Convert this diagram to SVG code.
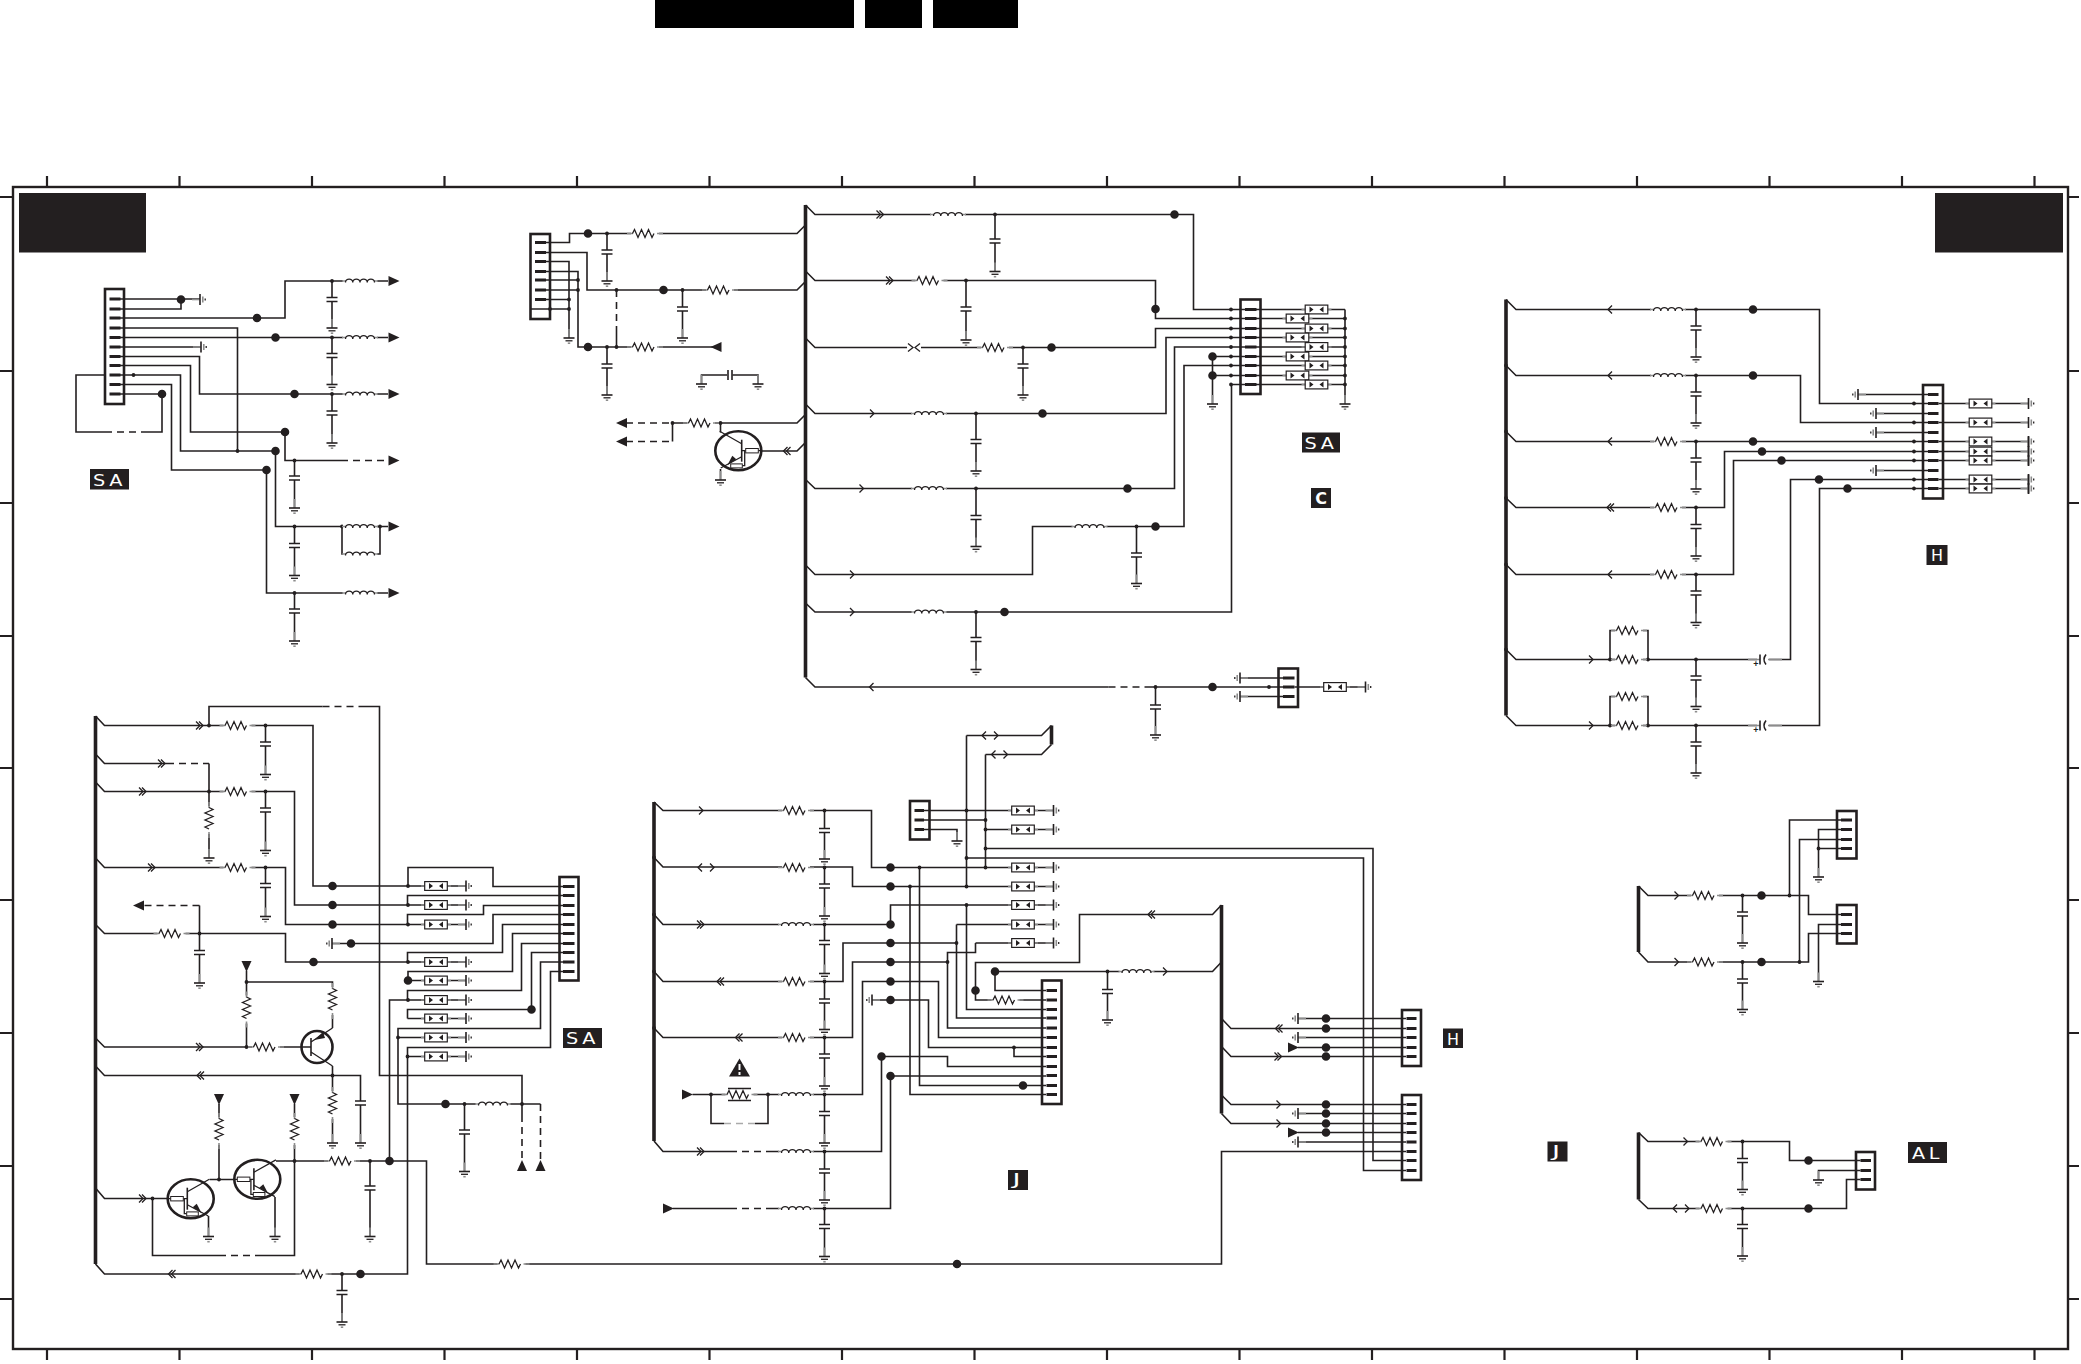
<svg xmlns="http://www.w3.org/2000/svg" width="2081" height="1364" viewBox="0 0 2081 1364">
<style>
.w{fill:none;stroke:#231f20;stroke-width:1.6}
.n{fill:none;stroke:#231f20;stroke-width:1.3}
.g{fill:none;stroke:#8c8c8c;stroke-width:1.6}
.dash{fill:none;stroke:#231f20;stroke-width:1.6;stroke-dasharray:7 5}
.bus{fill:none;stroke:#231f20;stroke-width:3.6}
.tick{fill:none;stroke:#231f20;stroke-width:2.2}
.dot{fill:none;stroke:#231f20;stroke-width:3.8;stroke-linecap:round}
.big{fill:none;stroke:#231f20;stroke-width:8.6;stroke-linecap:round}
.box{fill:none;stroke:#231f20;stroke-width:2.6}
.pin{fill:none;stroke:#231f20;stroke-width:3.2}
.bk{fill:#231f20}
.lb{fill:#fff;font-family:"DejaVu Sans",sans-serif;font-size:16px;text-anchor:middle}
</style>
<defs>
<g id="R"><rect x="-14" y="-5" width="28" height="10" fill="#fff"/><path class="g" d="M-18 0H-12M12 0H18"/><path class="n" d="M-12.5 0l2-4 3.5 8 3.5-8 3.5 8 3.5-8 3.5 8 2-4"/></g>
<g id="L"><rect x="-17" y="-4" width="34" height="8" fill="#fff"/><path class="g" d="M-18 0H-14M14 0H18"/><path class="n" d="M-14.5 1.5a3.6 3.4 0 0 1 7.25 0a3.6 3.4 0 0 1 7.25 0a3.6 3.4 0 0 1 7.25 0a3.6 3.4 0 0 1 7.25 0"/></g>
<g id="C"><rect x="-6" y="-2" width="12" height="4" fill="#fff"/><path class="w" d="M-5.5 -2H5.5M-5.5 2H5.5"/></g>
<g id="G"><path class="g" d="M0 -9V0"/><path class="w" d="M-5.5 0H5.5"/><path class="n" d="M-3.5 2.8H3.5"/><path class="g" d="M-1.2 5.2H1.2"/></g>
<g id="ER"><path class="g" d="M-8 0H0"/><path class="w" d="M0 -5.5V5.5"/><path class="g" d="M2.8 -3V3"/><path class="n" d="M5.2 -1V1"/></g>
<g id="EL"><path class="g" d="M8 0H0"/><path class="w" d="M0 -5.5V5.5"/><path class="g" d="M-2.8 -3V3"/><path class="n" d="M-5.2 -1V1"/></g>
<path id="AR" class="bk" d="M0 -5L11 0L0 5Z"/>
<path id="AL" class="bk" d="M0 0L11 -5V5Z"/>
<path id="AD" class="bk" d="M-5 0H5L0 11Z"/>
<path id="AU" class="bk" d="M-5 11H5L0 0Z"/>
<path id="c1" class="n" d="M-2 -4L2 0L-2 4"/>
<path id="c2" class="n" d="M-4 -4L0 0L-4 4M-1 -4L3 0L-1 4"/>
<path id="c3" class="n" d="M2 -4L-2 0L2 4"/>
<path id="c4" class="n" d="M4 -4L0 0L4 4M1 -4L-3 0L1 4"/>
<g id="c5"><path class="n" d="M-4 -4L-8 0L-4 4M4 -4L8 0L4 4"/></g>
<g id="c6"><rect x="-7" y="-2" width="14" height="4" fill="#fff"/><path class="n" d="M-6 -4L-1 0L-6 4M6 -4L1 0L6 4"/></g>
<g id="F"><path class="g" d="M-15 0H-11M11 0H15"/><rect x="-11.3" y="-4.4" width="22.6" height="8.8" fill="#fff" stroke="#231f20" stroke-width="1.2"/><path class="bk" d="M-7 -3L-3 0L-7 3ZM7 -3L3 0L7 3Z"/></g>
<g id="P"><rect x="-4" y="-6" width="12" height="12" fill="#fff"/><path class="g" d="M-13 0H-1M7 0H21"/><path class="w" d="M-1 -5V5"/><path class="w" d="M5 -5Q1 0 5 5"/></g>
<g id="TQ"><ellipse rx="23" ry="19.5" fill="#fff" stroke="#231f20" stroke-width="2.6"/><path class="w" d="M-3.4 -11V11"/><path class="n" d="M-3.4 -7L18.6 -19.4M-3.4 6L17.6 17.3M-23 0H-20M-7.4 0H-3.4M-6.4 0V15H-4"/><path class="bk" d="M11 14.5L2 8.5L6 5Z"/><rect x="-20" y="-2.2" width="12.6" height="4.4" fill="#fff" stroke="#231f20" stroke-width="1"/><rect x="-4" y="13.2" width="11.6" height="4" fill="#fff" stroke="#231f20" stroke-width="1"/></g>
</defs>

<g id="header">
<rect x="655" y="0" width="199" height="28" fill="#000"/>
<rect x="865" y="0" width="57" height="28" fill="#000"/>
<rect x="933" y="0" width="85" height="28" fill="#000"/>
</g>
<g id="frame">
<rect x="13" y="187" width="2055" height="1162" fill="none" stroke="#231f20" stroke-width="2.4"/>
<path class="tick" d="M47 176V187M179.5 176V187M312 176V187M444.5 176V187M577 176V187M709.5 176V187M842 176V187M974.5 176V187M1107 176V187M1239.5 176V187M1372 176V187M1504.5 176V187M1637 176V187M1769.5 176V187M1902 176V187M2034.5 176V187M47 1349V1360M179.5 1349V1360M312 1349V1360M444.5 1349V1360M577 1349V1360M709.5 1349V1360M842 1349V1360M974.5 1349V1360M1107 1349V1360M1239.5 1349V1360M1372 1349V1360M1504.5 1349V1360M1637 1349V1360M1769.5 1349V1360M1902 1349V1360M2034.5 1349V1360M0 197H13M0 371H13M0 503H13M0 636H13M0 768H13M0 900H13M0 1033H13M0 1166H13M0 1299H13M2068 197H2079M2068 371H2079M2068 503H2079M2068 636H2079M2068 768H2079M2068 900H2079M2068 1033H2079M2068 1166H2079M2068 1299H2079"/>
<rect class="bk" x="19" y="193" width="127" height="59.5"/>
<rect class="bk" x="1935" y="193" width="128" height="59.5"/>
</g>

<g id="connectors">
<path class="w" d="M120 299H200M120 309H181V299.5M120 318H285V281H388M120 328H237.5V451M120 337.5H388M120 347H200M120 356.5H199.5V394H388M120 365.5H190.5V432H285V460.5H341M120 375H180.5V451H275.5V526.5H388M120 384.5H171.5V470H266.5V593H388M105 375H76V432H105M143 432H162V394H120M342 526.5V554H380V526.5M332 281V328M332 337.5V384.5M332 394V443M294.5 460.5V508M294.5 526.5V575.5M294.5 593V641"/>
<path class="dash" d="M341 460.5H388M105 432H143"/>

<path class="w" d="M546 242.5H569.5V233.5H797L805.5 225M546 252.5H587V290H797L805.5 281.5M546 261.5H569V338M546 271.5H578V347H721M546 280H578M546 290H578M546 299.5H569M530.5 309H569M607 233.5V281M682.5 290V338M607 347V395M616.5 328V347M701.5 384V375H727M732.5 375H758V384M672.5 423V441.5M672.5 423H797L805.5 414.5M720.5 423V432.5M720.5 469V480M759 451H797L805.5 442.5"/>
<path class="w" d="M728 370V380M732 370V380"/>
<path class="dash" d="M616.5 290V328M626 423H672.5M626 441.5H672.5"/>

<path class="w" d="M805.5 205L815 214.5H1193.5V309.5H1245M805.5 271L815 280.5H1155.5V318.5H1245M805.5 338L815 347.5H1155.5V328.5H1245M805.5 404L815 413.5H1166V337.5H1245M805.5 479.5L815 488.5H1174.5V347H1245M805.5 565L815 574.5H1032.5V526.5H1184V365.5H1245M805.5 603L815 612H1231.5V384.5H1245M805.5 677.5L815 687H1108.5M1146 687H1283M1212.5 356.5H1245M1212.5 375.5H1245M1212.5 356.5V404M1256 309.5H1345M1256 318.5H1345M1256 328.5H1345M1256 337.5H1345M1256 347H1345M1256 356.5H1345M1256 365.5H1345M1256 375.5H1345M1256 384.5H1345M1345 309.5V404M995 214.5V271.5M966 280.5V340M1023 347.5V395M976 413.5V471M976 488.5V546.5M1136.5 526.5V583.5M976 612V669.5M1155.5 687V735M1240 678H1283M1240 696.5H1283M1294.5 687H1365"/>
<path class="dash" d="M1108.5 687H1146"/>
<path class="bus" d="M805.5 205V677.5"/>

<path class="bus" d="M1506 299.5V715.5M95.5 716V1264M654 802V1141M1051.5 725.5V744.5M1221.5 905V1113.5M1638.5 886V952M1638.5 1132.5V1199.5"/>
<path class="w" d="M1506 299.5L1516 309.5H1819.5V403.5H1928M1506 365.5L1516 375.5H1800.5V422.5H1928M1506 431.5L1516 441.5H1928M1506 498L1516 507.5H1724.5V451.5H1928M1506 564.5L1516 574.5H1733.5V460.5H1928M1506 649.5L1516 659.5H1790.5V479.5H1928M1506 715.5L1516 725.5H1819.5V488.5H1928M1610 659.5V630.5H1648V659.5M1610 725.5V696.5H1648V725.5M1858 394.5H1928M1876 413.5H1928M1876 432.5H1928M1876 470.5H1928M1938.5 403.5H2028M1938.5 422.5H2028M1938.5 441.5H2028M1938.5 451.5H2028M1938.5 460.5H2028M1938.5 479.5H2028M1938.5 488.5H2028M1696 309.5V357M1696 375.5V423M1696 441.5V489M1696 507.5V556M1696 574.5V622.5M1696 659.5V706.5M1696 725.5V773M2028.5 436.5V465.5M2028.5 474.5V493.5"/>

<path class="w" d="M95.5 716L104.5 725.5H313V886H466M209 725.5V706.5H322.5M360 706.5H379.5V1075.5H522V1115M95.5 754L104.5 763.5H167M209 763.5V858M95.5 782L104.5 791.5H294.5V905H466M95.5 858L104.5 867.5H285.5V924.5H466M95.5 924.5L104.5 933.5H285.5V962H466M199.5 933.5V905.5M265.5 725.5V774.5M265.5 791.5V850.5M265.5 867.5V916.5M199.5 933.5V983M95.5 1038L104.5 1047H302M246.5 971V1047M246.5 982H332.5V1028M332.5 1066V1143M95.5 1066L104.5 1075.5H360.5V1143M95.5 1188L104.5 1198.5H167.5M152.5 1198.5V1255.5H219M257 1255.5H294.5V1104M209.5 1179.5H234M219 1179.5V1104M208.5 1216V1236.5M275 1197V1236.5M276 1161H389.5H426.5V1264H1221.5V1151.5H1406M370 1161V1236.5M389.5 1161V1000H408M95.5 1264L104.5 1274H407.5V1047.5H550.5V971.5H563M342 1274V1322M563 886.5H493V867.5H408V886M563 895.5H407.5V905M563 905.5H483.5V914.5H407.5V924.5M563 914.5H493V943.5H332M563 924.5H502.5V952.5H407.5V962M563 933.5H512.5V971.5H408V980.5M563 943.5H521.5V990.5H407.5V1000M563 952.5H531.5V1009.5H407.5V1018.5M563 962H540.5V1028.5H398V1104H540.5M408 980.5H466M389.5 1000H466M407.5 1018.5H466M398 1037.5H466M407.5 1056.5H466M464.5 1104V1171.5"/>
<path class="dash" d="M322.5 706.5H360M167 763.5H209M199.5 905.5H144M219 1255.5H257M522 1115V1161M540.5 1104V1161"/>

<path class="w" d="M654 802L663 810.5H871.5V867.5H1053M654 857.5L663 867H852.5V886.5H1053M654 914.5L663 924.5H890.5V905H1053M654 971.5L663 981.5H843V943H956.5M654 1028L663 1037.5H852.5V962H947.5M692.5 1094.5H862.5V981.5H938.5V1037.5H1046M711 1094.5V1123.5H724M755 1123.5H768V1094.5M654 1141L663 1151.5H730M766 1151.5H881.5V1056.5H947.5V1066.5H1046M673 1208.5H730M766 1208.5H890.5V1076H1046M966.5 735.5V886.5M966.5 735.5H1041.5L1051.5 725.5M985.5 754.5V867.5M985.5 754.5H1041.5L1051.5 744.5M966.5 905V1009.5H1046M956.5 924.5V1018H1046M956.5 924.5H1053M975.5 943H1053M975.5 943V952.5H947.5V1028H1046M924 810.5H1053M924 820H985.5M924 829.5H957V841M985.5 829.5H1053M985.5 848.5H1373V1160.5H1406M966.5 858H1363.5V1170.5H1406M872 1000H928.5V1047.5H1046M1014 1047.5V1056.5H1046M919.5 867.5V1085.5H1046M910 886.5V1094.5H1046M1046 990.5H995V971.5H1212.5L1221.5 962M1046 1000H975.5V962.5H1079.5V914.5H1212.5L1221.5 905M1107.5 971.5V1020M824.5 810.5V859M824.5 867.5V916M824.5 924.5V973.5M824.5 981.5V1029.5M824.5 1037.5V1086M824.5 1094.5V1143M824.5 1151.5V1200M824.5 1208.5V1256.5M1221.5 1018.5L1231 1028.5H1406M1221.5 1046.5L1231 1056.5H1406M1221.5 1095L1231 1104.5H1406M1221.5 1113.5L1231 1123.5H1406M1298 1018.5H1406M1298 1037.5H1406M1298 1047.5H1406M1298 1113.5H1406M1298 1132.5H1406M1298 1142H1406"/>
<path class="dash" d="M730 1151.5H766M730 1208.5H766"/>
<path d="M724 1123.5H755" fill="none" stroke="#aaa" stroke-width="1.4" stroke-dasharray="7 5"/>

<path class="w" d="M1638.5 886L1648 895.5H1808.5V914.5H1841.5M1638.5 952L1648 962H1808.5V933.5H1841.5M1789.5 895.5V820H1841M1799.5 962V839.5H1841M1841 829.5H1818.5V877M1841 848.5H1818.5M1841.5 924.5H1818.5V981.5M1742.5 895.5V943M1742.5 962V1009.5M1638.5 1132.5L1648 1141.5H1789.5V1160.5H1860.5M1638.5 1199.5L1648 1208.5H1846.5V1179.5H1860.5M1860.5 1170.5H1818.5V1180M1742.5 1141.5V1189.5M1742.5 1208.5V1256"/>

<path class="dot" d="M332 281h0M332 337.5h0M332 394h0M294.5 460.5h0M294.5 526.5h0M294.5 593h0M133.5 375h0M237.5 451h0M342 526.5h0M380 526.5h0M607 233.5h0M616.5 290h0M682.5 290h0M607 347h0M616.5 347h0M578 280h0M578 290h0M569 299.5h0M569 309h0M550 309h0M672.5 423h0M720.5 423h0M995 214.5h0M966 280.5h0M1023 347.5h0M976 413.5h0M976 488.5h0M1136.5 526.5h0M976 612h0M1155.5 687h0M1269 687h0M1231 309.5h0M1231 318.5h0M1231 328.5h0M1231 337.5h0M1231 347h0M1231 356.5h0M1231 365.5h0M1231 375.5h0M1231 384.5h0M1345 318.5h0M1345 328.5h0M1345 337.5h0M1345 347h0M1345 356.5h0M1345 365.5h0M1345 375.5h0M1345 384.5h0M1696 309.5h0M1696 375.5h0M1696 441.5h0M1696 507.5h0M1696 574.5h0M1696 659.5h0M1696 725.5h0M1610 659.5h0M1648 659.5h0M1610 725.5h0M1648 725.5h0M1914 403.5h0M1914 422.5h0M1914 441.5h0M1914 451.5h0M1914 460.5h0M1914 479.5h0M1914 488.5h0M1506 365.5h0M1506 431.5h0M1506 498h0M1506 564.5h0M1506 649.5h0M209 725.5h0M265.5 725.5h0M209 791.5h0M265.5 791.5h0M265.5 867.5h0M199.5 933.5h0M246.5 982h0M246.5 1047h0M332.5 1075.5h0M152.5 1198.5h0M219 1179.5h0M294.5 1161h0M370 1161h0M342 1274h0M408 886h0M408 905h0M408 924.5h0M408 962h0M408 1000h0M398 1037.5h0M407.5 1056.5h0M464.5 1104h0M522 1104h0M824.5 810.5h0M824.5 867.5h0M824.5 924.5h0M824.5 981.5h0M824.5 1037.5h0M824.5 1094.5h0M824.5 1151.5h0M824.5 1208.5h0M711 1094.5h0M768 1094.5h0M966.5 810.5h0M985.5 820h0M985.5 829.5h0M985.5 848.5h0M966.5 858h0M919.5 867.5h0M985.5 867.5h0M910 886.5h0M966.5 886.5h0M966.5 905h0M956.5 943h0M947.5 962h0M1014 1047.5h0M1107.5 971.5h0M654 857.5h0M654 914.5h0M654 971.5h0M654 1028h0M1742.5 895.5h0M1742.5 962h0M1789.5 895.5h0M1799.5 962h0M1818.5 848.5h0M1742.5 1141.5h0M1742.5 1208.5h0"/>
<path class="big" d="M181 299.5h0M257 318h0M275.5 337.5h0M294.5 394h0M285 432h0M275.5 451h0M266.5 470h0M162 394h0M588 233.5h0M663.5 290h0M588 347h0M1174.5 214.5h0M1155.5 309h0M1051.5 347.5h0M1042.5 413.5h0M1127.5 488.5h0M1155.5 526.5h0M1004.5 612h0M1212.5 687h0M1212.5 356.5h0M1212.5 375.5h0M1753 309.5h0M1753 375.5h0M1753 441.5h0M1762 451.5h0M1781.5 460.5h0M1819 479.5h0M1847.5 488.5h0M332.5 886h0M332.5 905h0M332.5 924.5h0M313.5 962h0M351 943.5h0M408 980.5h0M531.5 1009.5h0M445.5 1104h0M389.5 1161h0M360.5 1274h0M890.5 867.5h0M890.5 886.5h0M890.5 924.5h0M890.5 943h0M890.5 962h0M890.5 981.5h0M890.5 1000h0M881.5 1056.5h0M890.5 1076h0M957 1264h0M975.5 990.5h0M995 971.5h0M1023 1085.5h0M1326 1018.5h0M1326 1028.5h0M1326 1047.5h0M1326 1056.5h0M1326 1104.5h0M1326 1113.5h0M1326 1123.5h0M1326 1132.5h0M1761.5 895.5h0M1761.5 962h0M1808.5 1160.5h0M1808.5 1208.5h0"/>
</g>

<g id="resistors">
<use href="#R" x="645" y="233.5"/><use href="#R" x="720" y="290"/><use href="#R" x="645" y="347"/><use href="#R" x="701" y="423"/>
<use href="#R" x="929.5" y="280.5"/><use href="#R" x="995" y="347.5"/>
<use href="#R" x="1668" y="441.5"/><use href="#R" x="1668" y="507.5"/><use href="#R" x="1668" y="574.5"/><use href="#R" x="1629" y="659.5"/><use href="#R" x="1629" y="630.5"/><use href="#R" x="1629" y="725.5"/><use href="#R" x="1629" y="696.5"/>
<use href="#R" x="237.5" y="725.5"/><use href="#R" x="237.5" y="791.5"/><use href="#R" x="237.5" y="867.5"/><use href="#R" x="171.5" y="933.5"/><use href="#R" x="342" y="1161"/><use href="#R" x="511.5" y="1264"/><use href="#R" x="266" y="1047"/><use href="#R" x="313.5" y="1274"/>
<use href="#R" transform="translate(209 820) rotate(90)"/><use href="#R" transform="translate(246.5 1009.5) rotate(90)"/><use href="#R" transform="translate(332.5 1001) rotate(90)"/><use href="#R" transform="translate(332.5 1105) rotate(90)"/><use href="#R" transform="translate(219 1131) rotate(90)"/><use href="#R" transform="translate(294.5 1131) rotate(90)"/>
<use href="#R" x="796" y="810.5"/><use href="#R" x="796" y="867.5"/><use href="#R" x="796" y="981.5"/><use href="#R" x="796" y="1037.5"/><use href="#R" x="1005.5" y="1000"/>
<use href="#R" x="739.5" y="1094.5"/>
<use href="#R" x="1705" y="895.5"/><use href="#R" x="1705" y="962"/><use href="#R" x="1713.5" y="1141.5"/><use href="#R" x="1713.5" y="1208.5"/>
<path class="w" d="M728 1088.5H751M728 1100.5H751"/>
</g>
<g id="inductors">
<use href="#L" x="360" y="281"/><use href="#L" x="360" y="337.5"/><use href="#L" x="360" y="394"/><use href="#L" x="360" y="526.5"/><use href="#L" x="360" y="554"/><use href="#L" x="360" y="593"/>
<use href="#L" x="948" y="214.5"/><use href="#L" x="929" y="413.5"/><use href="#L" x="929" y="488.5"/><use href="#L" x="1089.5" y="526.5"/><use href="#L" x="929" y="612"/>
<use href="#L" x="1668" y="309.5"/><use href="#L" x="1668" y="375.5"/><use href="#L" x="493" y="1104"/>
<use href="#L" x="796" y="924.5"/><use href="#L" x="796" y="1094.5"/><use href="#L" x="796" y="1151.5"/><use href="#L" x="796" y="1208.5"/><use href="#L" x="1136.5" y="971.5"/>
</g>
<g id="capacitors">
<use href="#C" x="332" y="299.5"/><use href="#C" x="332" y="355.5"/><use href="#C" x="332" y="413"/><use href="#C" x="294.5" y="478"/><use href="#C" x="294.5" y="545.5"/><use href="#C" x="294.5" y="611"/>
<use href="#C" x="607" y="252"/><use href="#C" x="682.5" y="309"/><use href="#C" x="607" y="366"/><use href="#C" x="995" y="241"/><use href="#C" x="966" y="309"/><use href="#C" x="1023" y="366"/><use href="#C" x="976" y="441.5"/><use href="#C" x="976" y="517.5"/><use href="#C" x="1136.5" y="555"/><use href="#C" x="976" y="639.5"/><use href="#C" x="1155.5" y="707"/>
<use href="#C" x="1696" y="328"/><use href="#C" x="1696" y="394"/><use href="#C" x="1696" y="460"/><use href="#C" x="1696" y="526.5"/><use href="#C" x="1696" y="593"/><use href="#C" x="1696" y="678"/><use href="#C" x="1696" y="744"/>
<use href="#C" x="265.5" y="744"/><use href="#C" x="265.5" y="810"/><use href="#C" x="265.5" y="885.5"/><use href="#C" x="199.5" y="952.5"/><use href="#C" x="360.5" y="1103"/><use href="#C" x="370" y="1188"/><use href="#C" x="342" y="1292.5"/><use href="#C" x="464.5" y="1132"/>
<use href="#C" x="824.5" y="830.5"/><use href="#C" x="824.5" y="886"/><use href="#C" x="824.5" y="942.5"/><use href="#C" x="824.5" y="1001"/><use href="#C" x="824.5" y="1056"/><use href="#C" x="824.5" y="1113.5"/><use href="#C" x="824.5" y="1171"/><use href="#C" x="824.5" y="1226.5"/><use href="#C" x="1107.5" y="991.5"/>
<use href="#C" x="1742.5" y="914"/><use href="#C" x="1742.5" y="981"/><use href="#C" x="1742.5" y="1160.5"/><use href="#C" x="1742.5" y="1226.5"/>
<g id="polar1"><use href="#P" x="1761" y="659.5"/><text x="1756" y="667" font-family="Liberation Sans,sans-serif" font-size="9" font-weight="bold" text-anchor="middle" fill="#231f20">+</text></g>
<g id="polar2"><use href="#P" x="1761" y="725.5"/><text x="1756" y="733" font-family="Liberation Sans,sans-serif" font-size="9" font-weight="bold" text-anchor="middle" fill="#231f20">+</text></g>
</g>
<g id="grounds">
<use href="#G" x="332" y="328"/><use href="#G" x="332" y="384.5"/><use href="#G" x="332" y="443"/><use href="#G" x="294.5" y="508"/><use href="#G" x="294.5" y="575.5"/><use href="#G" x="294.5" y="641"/>
<use href="#G" x="569" y="338"/><use href="#G" x="607" y="281"/><use href="#G" x="682.5" y="338"/><use href="#G" x="607" y="395"/><use href="#G" x="701.5" y="384"/><use href="#G" x="758" y="384"/><use href="#G" x="720.5" y="480"/>
<use href="#G" x="995" y="271.5"/><use href="#G" x="966" y="340"/><use href="#G" x="1023" y="395"/><use href="#G" x="976" y="471"/><use href="#G" x="976" y="546.5"/><use href="#G" x="1136.5" y="583.5"/><use href="#G" x="976" y="669.5"/><use href="#G" x="1155.5" y="735"/><use href="#G" x="1212.5" y="404"/><use href="#G" x="1345" y="404"/>
<use href="#G" x="1696" y="357"/><use href="#G" x="1696" y="423"/><use href="#G" x="1696" y="489"/><use href="#G" x="1696" y="556"/><use href="#G" x="1696" y="622.5"/><use href="#G" x="1696" y="706.5"/><use href="#G" x="1696" y="773"/>
<use href="#G" x="265.5" y="774.5"/><use href="#G" x="265.5" y="850.5"/><use href="#G" x="265.5" y="916.5"/><use href="#G" x="209" y="858"/><use href="#G" x="199.5" y="983"/><use href="#G" x="332.5" y="1143"/><use href="#G" x="360.5" y="1143"/><use href="#G" x="208.5" y="1236.5"/><use href="#G" x="275" y="1236.5"/><use href="#G" x="370" y="1236.5"/><use href="#G" x="342" y="1322"/><use href="#G" x="464.5" y="1171.5"/>
<use href="#G" x="824.5" y="859"/><use href="#G" x="824.5" y="916"/><use href="#G" x="824.5" y="973.5"/><use href="#G" x="824.5" y="1029.5"/><use href="#G" x="824.5" y="1086"/><use href="#G" x="824.5" y="1143"/><use href="#G" x="824.5" y="1200"/><use href="#G" x="824.5" y="1256.5"/><use href="#G" x="957" y="841"/><use href="#G" x="1107.5" y="1020"/>
<use href="#G" x="1742.5" y="943"/><use href="#G" x="1742.5" y="1009.5"/><use href="#G" x="1818.5" y="877"/><use href="#G" x="1818.5" y="981.5"/><use href="#G" x="1818.5" y="1180"/><use href="#G" x="1742.5" y="1189.5"/><use href="#G" x="1742.5" y="1256"/>
<use href="#ER" x="200" y="299.5"/><use href="#ER" x="201" y="347"/><use href="#ER" x="1365.5" y="687"/><use href="#EL" x="1240" y="678"/><use href="#EL" x="1240" y="696.5"/>
<use href="#EL" x="1858" y="394.5"/><use href="#EL" x="1876" y="413.5"/><use href="#EL" x="1876" y="432.5"/><use href="#EL" x="1876" y="470.5"/>
<use href="#ER" x="2028.5" y="403.5"/><use href="#ER" x="2028.5" y="422.5"/><use href="#ER" x="2028.5" y="441.5"/><use href="#ER" x="2028.5" y="451.5"/><use href="#ER" x="2028.5" y="460.5"/><use href="#ER" x="2028.5" y="479.5"/><use href="#ER" x="2028.5" y="488.5"/>
<use href="#ER" x="466" y="886"/><use href="#ER" x="466" y="905"/><use href="#ER" x="466" y="924.5"/><use href="#ER" x="466" y="962"/><use href="#ER" x="466" y="980.5"/><use href="#ER" x="466" y="1000"/><use href="#ER" x="466" y="1018.5"/><use href="#ER" x="466" y="1037.5"/><use href="#ER" x="466" y="1056.5"/><use href="#EL" x="332" y="943.5"/>
<use href="#ER" x="1053.5" y="810.5"/><use href="#ER" x="1053.5" y="829.5"/><use href="#ER" x="1053.5" y="867.5"/><use href="#ER" x="1053.5" y="886.5"/><use href="#ER" x="1053.5" y="905"/><use href="#ER" x="1053.5" y="924.5"/><use href="#ER" x="1053.5" y="943"/><use href="#EL" x="872" y="1000"/>
<use href="#EL" x="1298" y="1018.5"/><use href="#EL" x="1298" y="1037.5"/><use href="#EL" x="1298" y="1113.5"/><use href="#EL" x="1298" y="1142"/>
</g>
<g id="arrows">
<use href="#AR" x="388.5" y="281"/><use href="#AR" x="388.5" y="337.5"/><use href="#AR" x="388.5" y="394"/><use href="#AR" x="388.5" y="460.5"/><use href="#AR" x="388.5" y="526.5"/><use href="#AR" x="388.5" y="593"/>
<use href="#AL" x="710.5" y="347"/><use href="#AL" x="616" y="423"/><use href="#AL" x="616" y="441.5"/><use href="#AL" x="133" y="905.5"/>
<use href="#AD" x="246.5" y="961"/><use href="#AD" x="219" y="1094"/><use href="#AD" x="294.5" y="1094"/><use href="#AU" x="522" y="1160"/><use href="#AU" x="540.5" y="1160"/>
<use href="#AR" x="682" y="1094.5"/><use href="#AR" x="663" y="1208.5"/><use href="#AR" x="1288" y="1047.5"/><use href="#AR" x="1288" y="1132.5"/>
</g>
<g id="signal-marks">
<use href="#c4" x="786.5" y="451"/>
<use href="#c2" x="880.5" y="214.5"/><use href="#c2" x="890" y="280.5"/><use href="#c6" x="914" y="347.5"/><use href="#c1" x="872" y="413.5"/><use href="#c1" x="861.5" y="488.5"/><use href="#c1" x="852" y="574.5"/><use href="#c1" x="852" y="612"/><use href="#c3" x="871.5" y="687"/>
<use href="#c3" x="1610" y="309.5"/><use href="#c3" x="1610" y="375.5"/><use href="#c3" x="1610" y="441.5"/><use href="#c4" x="1610" y="507.5"/><use href="#c3" x="1610" y="574.5"/><use href="#c1" x="1591" y="659.5"/><use href="#c1" x="1591" y="725.5"/>
<use href="#c2" x="200" y="725.5"/><use href="#c2" x="162" y="763.5"/><use href="#c2" x="143" y="791.5"/><use href="#c2" x="152" y="867.5"/><use href="#c2" x="200" y="1047"/><use href="#c4" x="200" y="1075.5"/><use href="#c2" x="143" y="1198.5"/><use href="#c4" x="171.5" y="1274"/>
<use href="#c1" x="701" y="810.5"/><use href="#c5" x="706" y="867.5"/><use href="#c2" x="701" y="924.5"/><use href="#c4" x="720" y="981.5"/><use href="#c4" x="738.5" y="1037.5"/><use href="#c2" x="701" y="1151.5"/>
<use href="#c5" x="990" y="735.5"/><use href="#c5" x="999.5" y="754.5"/><use href="#c1" x="1165" y="971.5"/><use href="#c4" x="1151" y="914.5"/>
<use href="#c4" x="1278.5" y="1028.5"/><use href="#c2" x="1278.5" y="1056.5"/><use href="#c1" x="1278.5" y="1104.5"/><use href="#c1" x="1278.5" y="1123.5"/>
<use href="#c1" x="1676.5" y="895.5"/><use href="#c1" x="1676.5" y="962"/><use href="#c1" x="1685.5" y="1141.5"/><use href="#c5" x="1681" y="1208.5"/>
</g>
<g id="fuses">
<use href="#F" x="1316.5" y="309.5"/><use href="#F" x="1297.5" y="318.5"/><use href="#F" x="1316.5" y="328.5"/><use href="#F" x="1297.5" y="337.5"/><use href="#F" x="1316.5" y="347"/><use href="#F" x="1297.5" y="356.5"/><use href="#F" x="1316.5" y="365.5"/><use href="#F" x="1297.5" y="375.5"/><use href="#F" x="1316.5" y="384.5"/><use href="#F" x="1335" y="687"/>
<use href="#F" x="1980.5" y="403.5"/><use href="#F" x="1980.5" y="422.5"/><use href="#F" x="1980.5" y="441.5"/><use href="#F" x="1980.5" y="451.5"/><use href="#F" x="1980.5" y="460.5"/><use href="#F" x="1980.5" y="479.5"/><use href="#F" x="1980.5" y="488.5"/>
<use href="#F" x="436" y="886"/><use href="#F" x="436" y="905"/><use href="#F" x="436" y="924.5"/><use href="#F" x="436" y="962"/><use href="#F" x="436" y="980.5"/><use href="#F" x="436" y="1000"/><use href="#F" x="436" y="1018.5"/><use href="#F" x="436" y="1037.5"/><use href="#F" x="436" y="1056.5"/>
<use href="#F" x="1023" y="810.5"/><use href="#F" x="1023" y="829.5"/><use href="#F" x="1023" y="867.5"/><use href="#F" x="1023" y="886.5"/><use href="#F" x="1023" y="905"/><use href="#F" x="1023" y="924.5"/><use href="#F" x="1023" y="943"/>
</g>

<g id="T1"><use href="#TQ" transform="translate(738.3 450.7) scale(-1 1)"/></g>
<g id="T2"><ellipse cx="317" cy="1047" rx="15.5" ry="16" fill="#fff" stroke="#231f20" stroke-width="2.6"/><path class="w" d="M311 1038V1056"/><path class="n" d="M302 1047H311M311 1042L332.5 1028M311 1052L332.5 1066"/><path class="bk" d="M314 1040L323 1032L325 1038Z"/></g>
<g id="T3"><use href="#TQ" transform="translate(190.7 1198.7)"/></g>
<g id="T4"><use href="#TQ" transform="translate(257.3 1179.3)"/></g>

<g id="X1"><rect class="box" x="105" y="289" width="19" height="115"/><path class="pin" d="M109.5 299H120.5M109.5 309H120.5M109.5 318H120.5M109.5 328H120.5M109.5 337.5H120.5M109.5 347H120.5M109.5 356.5H120.5M109.5 365.5H120.5M109.5 375H120.5M109.5 384.5H120.5M109.5 394H120.5"/></g>
<g id="X2"><rect class="box" x="530.5" y="234" width="19.5" height="85"/><path class="pin" d="M535 242.5H546M535 252.5H546M535 261.5H546M535 271.5H546M535 280H546M535 290H546M535 299.5H546"/></g>
<g id="X3"><rect class="box" x="1240.5" y="299.5" width="20" height="94.5"/><path class="pin" d="M1245 309.5H1256.5M1245 318.5H1256.5M1245 328.5H1256.5M1245 337.5H1256.5M1245 347H1256.5M1245 356.5H1256.5M1245 365.5H1256.5M1245 375.5H1256.5M1245 384.5H1256.5"/></g>
<g id="X4"><rect class="box" x="1278.5" y="668.5" width="19.5" height="38.5"/><path class="pin" d="M1283 678H1294.5M1283 687H1294.5M1283 696.5H1294.5"/></g>
<g id="X5"><rect class="box" x="1923" y="385" width="20" height="113.5"/><path class="pin" d="M1928 394.5H1938.5M1928 403.5H1938.5M1928 413.5H1938.5M1928 422.5H1938.5M1928 432.5H1938.5M1928 441.5H1938.5M1928 451.5H1938.5M1928 460.5H1938.5M1928 470.5H1938.5M1928 479.5H1938.5M1928 488.5H1938.5"/></g>
<g id="X6"><rect class="box" x="559.5" y="877" width="19" height="103.5"/><path class="pin" d="M563 886.5H574.5M563 895.5H574.5M563 905.5H574.5M563 914.5H574.5M563 924.5H574.5M563 933.5H574.5M563 943.5H574.5M563 952.5H574.5M563 962H574.5M563 971.5H574.5"/></g>
<g id="X7"><rect class="box" x="910" y="801" width="19.5" height="38.5"/><path class="pin" d="M914.5 810.5H924M914.5 820H924M914.5 829.5H924"/></g>
<g id="X8"><rect class="box" x="1042" y="980.5" width="19.5" height="123.5"/><path class="pin" d="M1046.5 990.5H1057M1046.5 1000H1057M1046.5 1009.5H1057M1046.5 1018H1057M1046.5 1028H1057M1046.5 1037.5H1057M1046.5 1047.5H1057M1046.5 1056.5H1057M1046.5 1066.5H1057M1046.5 1075.5H1057M1046.5 1085.5H1057M1046.5 1094.5H1057"/></g>
<g id="X9"><rect class="box" x="1402" y="1010" width="19" height="56"/><path class="pin" d="M1406.5 1018.5H1416.5M1406.5 1028.5H1416.5M1406.5 1037.5H1416.5M1406.5 1047.5H1416.5M1406.5 1056.5H1416.5"/></g>
<g id="X10"><rect class="box" x="1402" y="1095" width="19" height="85"/><path class="pin" d="M1406.5 1104.5H1416.5M1406.5 1113.5H1416.5M1406.5 1123.5H1416.5M1406.5 1132.5H1416.5M1406.5 1142H1416.5M1406.5 1151.5H1416.5M1406.5 1160.5H1416.5M1406.5 1170.5H1416.5"/></g>
<g id="X11"><rect class="box" x="1837" y="811" width="19.5" height="47.5"/><path class="pin" d="M1841 820H1852M1841 829.5H1852M1841 839.5H1852M1841 848.5H1852"/></g>
<g id="X12"><rect class="box" x="1837" y="905" width="19.5" height="38.5"/><path class="pin" d="M1841 914.5H1852M1841 924.5H1852M1841 933.5H1852"/></g>
<g id="X13"><rect class="box" x="1856" y="1152" width="19" height="37.5"/><path class="pin" d="M1860.5 1160.5H1871M1860.5 1170.5H1871M1860.5 1179.5H1871"/></g>

<g id="warning"><path class="bk" d="M739.5 1058.5L750 1076.5H729Z"/><path d="M739.5 1064V1070" stroke="#fff" stroke-width="2"/><path d="M739.5 1072V1075" stroke="#fff" stroke-width="2"/></g>

<g id="label-sa1"><rect class="bk" x="90" y="469" width="39" height="20.5"/><text class="lb" x="109.5" y="485.5" textLength="33" lengthAdjust="spacingAndGlyphs" letter-spacing="3">SA</text></g>
<g id="label-sa2"><rect class="bk" x="1302" y="432.5" width="38" height="20"/><text class="lb" x="1321" y="448.5" textLength="33" lengthAdjust="spacingAndGlyphs" letter-spacing="3">SA</text></g>
<g id="label-c"><rect class="bk" x="1311" y="488" width="20" height="20"/><text class="lb" x="1321" y="504" font-weight="bold" font-size="17">C</text></g>
<g id="label-h1"><rect class="bk" x="1926.5" y="545" width="21" height="20"/><text class="lb" x="1937" y="561" textLength="12" lengthAdjust="spacingAndGlyphs">H</text></g>
<g id="label-sa3"><rect class="bk" x="563" y="1028" width="39" height="20"/><text class="lb" x="582.5" y="1044" textLength="33" lengthAdjust="spacingAndGlyphs" letter-spacing="3">SA</text></g>
<g id="label-j1"><rect class="bk" x="1008" y="1170" width="20" height="20"/><text class="lb" x="1016.5" y="1185" textLength="8" lengthAdjust="spacingAndGlyphs">J</text></g>
<g id="label-h2"><rect class="bk" x="1443" y="1028.5" width="20" height="19.5"/><text class="lb" x="1453" y="1044.5" textLength="12" lengthAdjust="spacingAndGlyphs">H</text></g>
<g id="label-j2"><rect class="bk" x="1547.5" y="1141.5" width="20" height="20"/><text class="lb" x="1556" y="1156.5" textLength="8" lengthAdjust="spacingAndGlyphs">J</text></g>
<g id="label-al"><rect class="bk" x="1908" y="1142" width="39" height="21"/><text class="lb" x="1927.5" y="1158.5" textLength="31" lengthAdjust="spacingAndGlyphs" letter-spacing="3">AL</text></g>
</svg>
